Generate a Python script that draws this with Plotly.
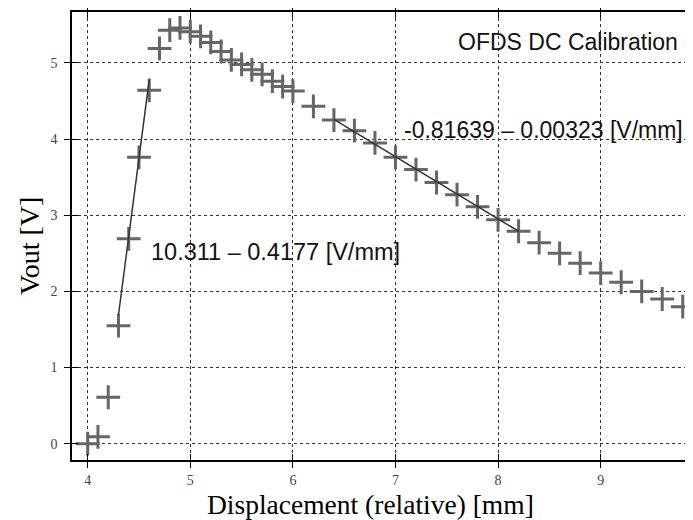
import plotly.graph_objects as go

# measured points
disp_mm = [4.0, 4.1, 4.2, 4.3, 4.4, 4.5, 4.6, 4.7, 4.8, 4.9, 5.0, 5.1, 5.2, 5.3, 5.4,
           5.5, 5.6, 5.7, 5.8, 5.9, 6.0, 6.2, 6.4, 6.6, 6.8, 7.0, 7.2, 7.4, 7.6, 7.8,
           8.0, 8.2, 8.4, 8.6, 8.8, 9.0, 9.2, 9.4, 9.6, 9.8]
vout_v = [0.0, 0.09, 0.61, 1.55, 2.69, 3.76, 4.64, 5.19, 5.43, 5.46, 5.41, 5.35, 5.27, 5.15, 5.04,
          4.98, 4.91, 4.85, 4.76, 4.69, 4.63, 4.43, 4.25, 4.11, 3.95, 3.76, 3.60, 3.43, 3.27, 3.11,
          2.94, 2.79, 2.64, 2.50, 2.37, 2.24, 2.12, 2.00, 1.90, 1.80]

# linear fits
rise_fit_x = [4.3, 4.6]
rise_fit_y = [1.69, 4.78]
fall_fit_x = [6.4, 8.2]
fall_fit_y = [4.26, 2.79]

x_ticks = [4, 5, 6, 7, 8, 9]
y_ticks = [0, 1, 2, 3, 4, 5]

fig = go.Figure()
fig.add_trace(go.Scatter(
    x=disp_mm, y=vout_v, mode="markers",
    marker={"symbol": "cross-thin", "size": 17, "line": {"color": "#666666", "width": 3}},
    showlegend=False,
))
for fx, fy in [(rise_fit_x, rise_fit_y), (fall_fit_x, fall_fit_y)]:
    fig.add_trace(go.Scatter(
        x=fx, y=fy, mode="lines",
        line={"color": "#333333", "width": 1.5},
        showlegend=False,
    ))

# overlay axes only to draw inward ticks (so ticks cross the frame)
fig.add_trace(go.Scatter(x=[], y=[], xaxis="x2", yaxis="y2", showlegend=False))

note_font = {"family": "Liberation Sans, Arial", "size": 23, "color": "#111111"}
fig.add_annotation(x=9.77, y=5.28, text="OFDS DC Calibration", showarrow=False,
                   xanchor="right", font=note_font)
fig.add_annotation(x=7.06, y=4.12, text="-0.81639 \u2013 0.00323 [V/mm]", showarrow=False,
                   xanchor="left", font=note_font)
fig.add_annotation(x=4.6, y=2.52, text="10.311 \u2013 0.4177 [V/mm]", showarrow=False,
                   xanchor="left", font={**note_font, "size": 23.5})

serif = "Liberation Serif, Times New Roman, serif"
# axis titles as paper annotations (reference titles sit a bit off-centre)
fig.add_annotation(x=0.48, y=-0.10, xref="paper", yref="paper", text="Displacement (relative) [mm]",
                   showarrow=False, yanchor="middle", font={"family": serif, "size": 27.5, "color": "black"})
fig.add_annotation(x=-0.0676, y=0.478, xref="paper", yref="paper", text="Vout [V]", textangle=-90,
                   showarrow=False, xanchor="center", font={"family": serif, "size": 28, "color": "black"})

x_range = [3.847, 9.90]
y_range = [-0.214, 5.669]
axis_common = dict(
    showline=True, linecolor="black", linewidth=1.5, mirror="ticks",
    ticks="outside", ticklen=6, tickcolor="black", tickwidth=1,
    showgrid=True, gridcolor="#333333", griddash="dot", gridwidth=1,
    zeroline=False, automargin=False,
    tickfont={"family": serif, "size": 14, "color": "#444444"},
)
# page body adds an 8px margin, so the figure is sized to fit inside the window
fig.update_layout(
    width=685, height=512,
    margin={"l": 64, "r": 0, "t": 4, "b": 60},
    plot_bgcolor="white", paper_bgcolor="white",
    xaxis=dict(axis_common, range=x_range, tickvals=x_ticks),
    yaxis=dict(axis_common, range=y_range, tickvals=y_ticks, ticklabelstandoff=4),
    xaxis2=dict(overlaying="x", range=x_range, tickvals=x_ticks, ticks="inside", ticklen=6,
                tickcolor="black", mirror="ticks", showticklabels=False, showgrid=False,
                zeroline=False, showline=False, side="bottom"),
    yaxis2=dict(overlaying="y", range=y_range, tickvals=y_ticks, ticks="inside", ticklen=6,
                tickcolor="black", mirror="ticks", showticklabels=False, showgrid=False,
                zeroline=False, showline=False, side="left"),
)

fig.write_html("out.html")
